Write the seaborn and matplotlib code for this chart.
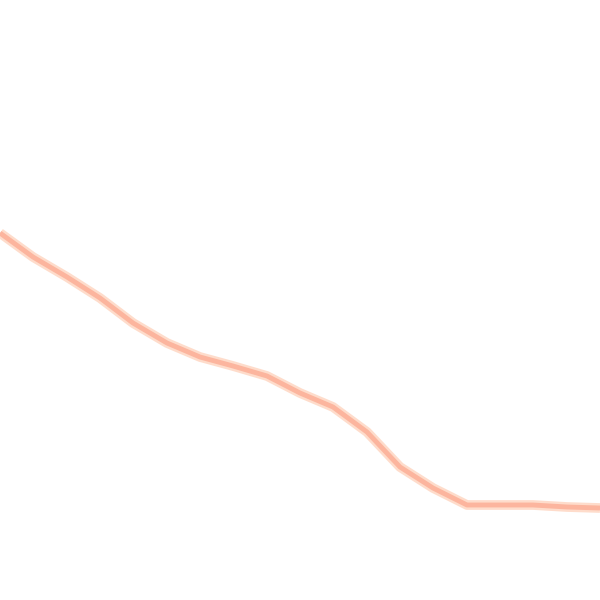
import pandas as pd
import matplotlib.pyplot as plt
import seaborn as sns

# values (x along the width, y as height from bottom)
x_vals = [0, 33, 67, 100, 133, 167, 200, 233, 267, 300, 333, 367, 400, 433, 467, 500, 533, 567, 600]
y_vals = [367, 343, 323, 302, 277, 257, 243, 234, 224, 207, 193, 168, 133, 112, 95, 95, 95, 93, 92]

df = pd.DataFrame({'x': x_vals, 'y': y_vals})

sns.set_style("white")
fig = plt.figure(figsize=(6, 6), dpi=100)
ax = fig.add_axes([0, 0, 1, 1])

# soft halo under the line, then the core stroke
sns.lineplot(data=df, x='x', y='y', ax=ax, color='#fedccb', linewidth=7,
             solid_capstyle='butt')
sns.lineplot(data=df, x='x', y='y', ax=ax, color='#fcb59e', linewidth=3.5,
             solid_capstyle='butt')

ax.set_xlim(0, 600)
ax.set_ylim(0, 600)
ax.axis('off')

plt.savefig('out.png', dpi=100)
plt.close()
